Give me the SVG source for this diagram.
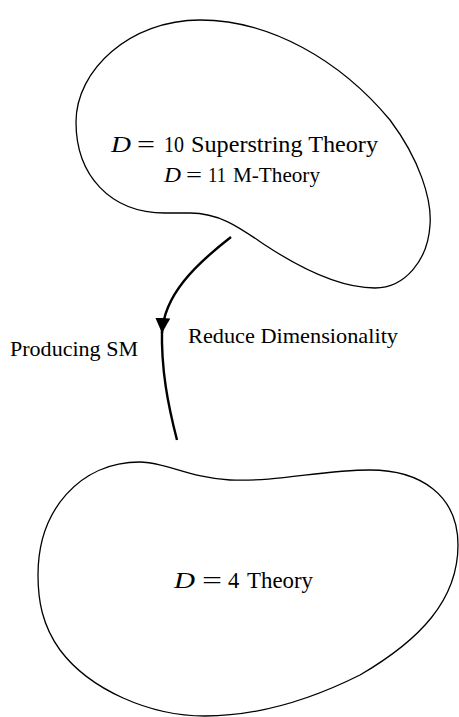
<svg xmlns="http://www.w3.org/2000/svg" width="459" height="717" viewBox="0 0 459 717">
<style>
.blob{fill:none;stroke:#000;stroke-width:1.3}
.t{font-family:"Liberation Serif","DejaVu Serif",serif;fill:#000}
.m{text-anchor:middle}
.i{font-style:italic}
.conn{fill:none;stroke:#000;stroke-width:2.4}
</style>
<defs>
<marker id="ah" viewBox="0 0 10 10" refX="10" refY="5" markerWidth="15" markerHeight="15" markerUnits="userSpaceOnUse" orient="auto">
<path d="M0,0 L10,5 L0,10 Z" fill="#000"/>
</marker>
</defs>
<g id="node-top">
<path class="blob" d="M 76,122 C 76,70 130,20 200,20 C 270,20 340,60 390,120 C 420,160 432,200 430,225 C 428,260 405,288 375,288 C 340,288 300,268 265,245 C 240,228 220,213 190,213 L 165,213 C 110,213 76,175 76,122 Z"/>
<text class="t" y="152" font-size="24"><tspan class="i" x="111" textLength="20" lengthAdjust="spacingAndGlyphs">D</tspan><tspan x="137" textLength="18" lengthAdjust="spacingAndGlyphs">=</tspan><tspan x="164" textLength="20" lengthAdjust="spacingAndGlyphs">10</tspan><tspan x="191" textLength="187" lengthAdjust="spacingAndGlyphs">Superstring Theory</tspan></text>
<text class="t" y="182" font-size="21.5"><tspan class="i" x="164" textLength="17" lengthAdjust="spacingAndGlyphs">D</tspan><tspan x="186" textLength="16" lengthAdjust="spacingAndGlyphs">=</tspan><tspan x="208" textLength="18" lengthAdjust="spacingAndGlyphs">11</tspan><tspan x="233" textLength="87" lengthAdjust="spacingAndGlyphs">M-Theory</tspan></text>
</g>
<g id="node-bottom">
<path class="blob" d="M 140,462 C 165,462 190,478 230,480 C 280,482 320,470 370,470 C 420,470 458,495 458,545 C 458,600 420,640 360,675 C 300,705 250,716 205,716 C 150,716 90,690 60,650 C 42,625 38,600 38,575 C 38,510 80,462 140,462 Z"/>
<text class="t" y="588" font-size="22.5"><tspan class="i" x="174" textLength="21" lengthAdjust="spacingAndGlyphs">D</tspan><tspan x="202" textLength="20" lengthAdjust="spacingAndGlyphs">=</tspan><tspan x="228">4</tspan><tspan x="247" textLength="66" lengthAdjust="spacingAndGlyphs">Theory</tspan></text>
</g>
<g id="connectors">
<path class="conn" d="M 231,237 C 195,265 164,295 162,333" marker-end="url(#ah)"/>
<path class="conn" d="M 162,328 C 161,370 168,405 177,440"/>
<text class="t m" x="293" y="343" font-size="22" textLength="210" lengthAdjust="spacingAndGlyphs">Reduce Dimensionality</text>
<text class="t m" x="74" y="356" font-size="22" textLength="128" lengthAdjust="spacingAndGlyphs">Producing SM</text>
</g>
</svg>
